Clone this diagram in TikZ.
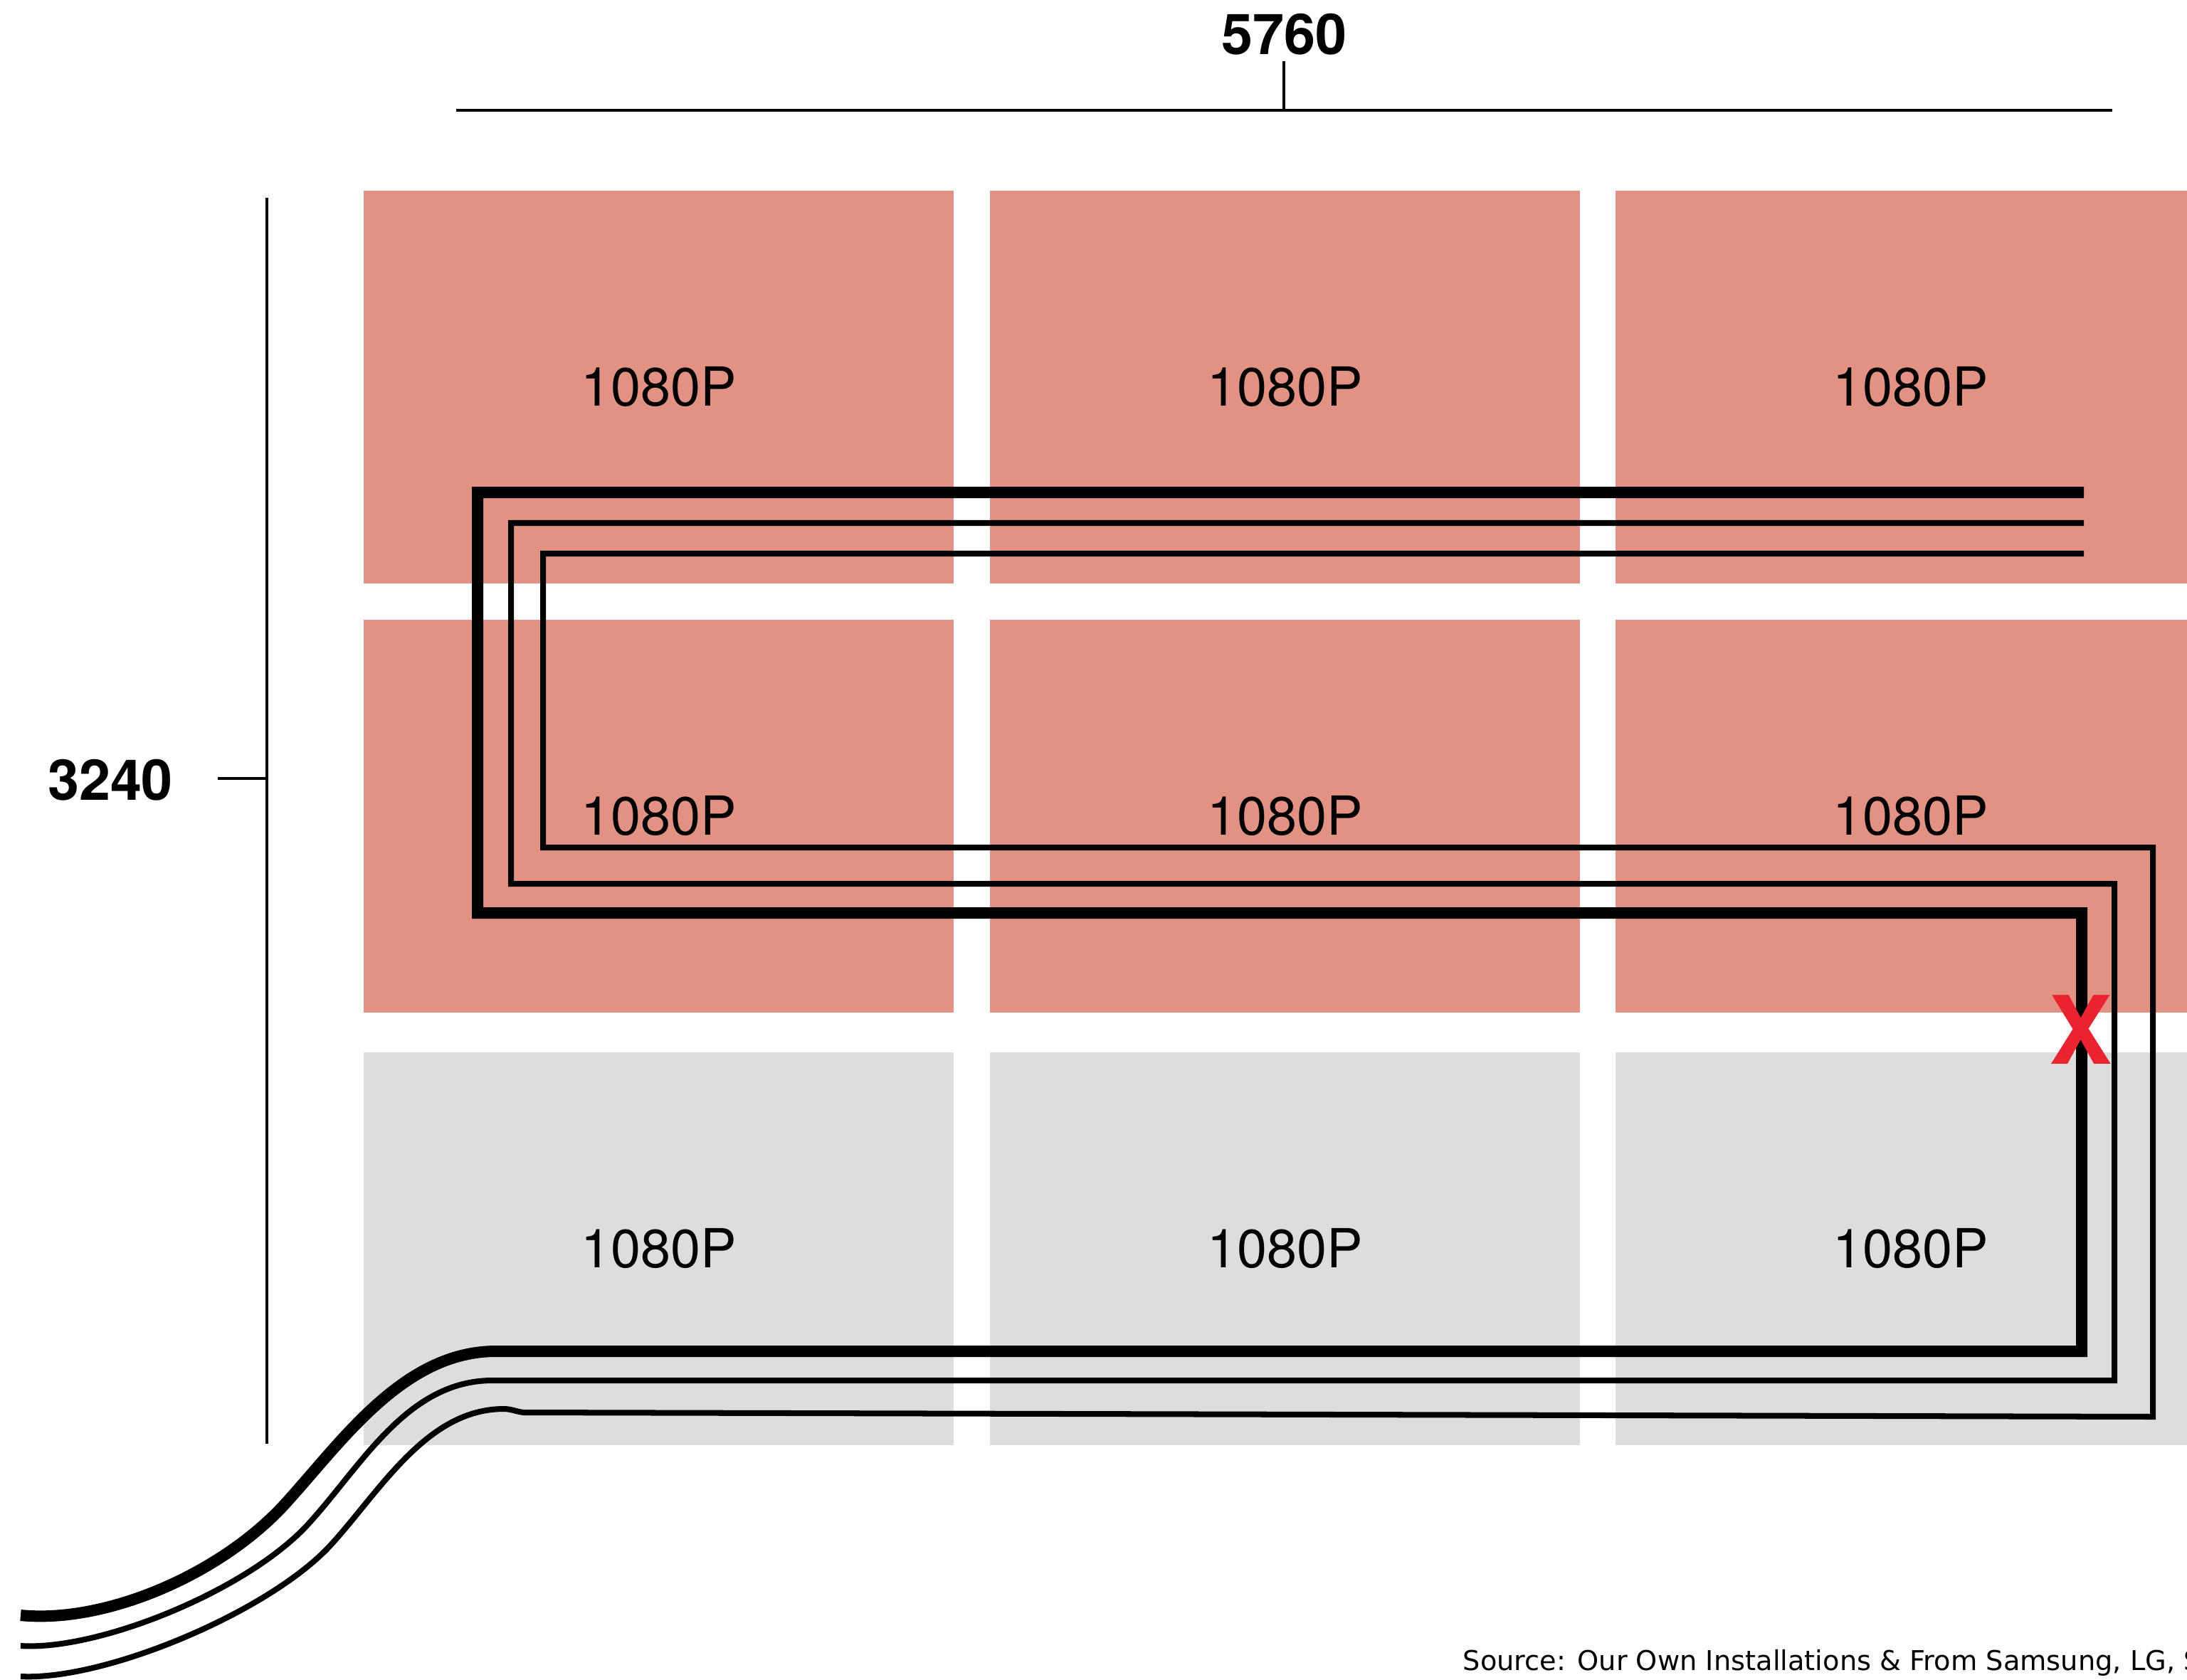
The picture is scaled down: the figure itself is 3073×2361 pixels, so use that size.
\documentclass[tikz,border=0pt]{standalone}
\usepackage{fontspec}
\setmainfont{TeX Gyre Heros}
\newfontfamily\srcfont{DejaVu Sans}
\usepackage{xcolor}
\definecolor{panelred}{RGB}{226,146,131}
\definecolor{panelgray}{RGB}{220,221,223}
\definecolor{faultred}{RGB}{233,36,48}

\begin{document}
\begin{tikzpicture}[x=0.01cm, y=-0.01cm,
  panel/.style={rectangle, inner sep=0pt, anchor=north west, minimum width=8.29cm, minimum height=5.52cm, font=\fontsize{21.5}{24}\selectfont},
  hot/.style={panel, fill=panelred}, cold/.style={panel, fill=panelgray},
  dim/.style={line width=1.4pt, black},
  dimlabel/.style={inner sep=0pt, font=\bfseries\fontsize{22.5}{26}\selectfont},
  heavy/.style={line width=4.55pt, line join=miter}, light/.style={line width=2.28pt, line join=miter}]
\useasboundingbox (0,0) rectangle (3073,2361);

\foreach \c/\x in {1/510,2/1390,3/2269} {
  \node[hot] (p1\c) at (\x,267) {1080P};
  \node[hot] (p2\c) at (\x,870) {1080P};
  \node[cold] (p3\c) at (\x,1478) {1080P};
}

\node[dimlabel] (wlabel) at (1804,48) {5760};
\coordinate (wleft) at (641,155); \coordinate (wright) at (2968,155); \coordinate (wmid) at (1804,155);
\draw[dim] (wleft) -- (wright);
\draw[dim] (wmid) -- ++(0,-69);
\node[dimlabel] (hlabel) at (155,1096) {3240};
\coordinate (htop) at (375,278); \coordinate (hbot) at (375,2029); \coordinate (hmid) at (375,1094);
\draw[dim] (htop) -- (hbot);
\draw[dim] (hmid) -- ++(-69,0);

\draw[heavy] (2928,692) -- (671,692) -- (671,1283) -- (2925,1283) -- (2925,1899) -- (697,1899)
  .. controls (567,1899) and (481,2025) .. (401,2113) .. controls (311,2212) and (149,2282) .. (29,2270);
\draw[light] (2928,735) -- (718,735) -- (718,1242) -- (2971,1242) -- (2971,1940) -- (692,1940)
  .. controls (572,1940) and (508,2060) .. (433,2142) .. controls (348,2235) and (139,2320) .. (29,2313);
\draw[light] (2928,778) -- (763,778) -- (763,1191) -- (3025,1191) -- (3025,1991) -- (736,1985)
  .. controls (726,1984) and (718,1980) .. (708,1980)
  .. controls (600,1980) and (535,2094) .. (465,2171) .. controls (380,2264) and (149,2362) .. (29,2356);

\node[inner sep=0pt, text=faultred, font=\bfseries\fontsize{37.8}{40}\selectfont] (fault) at (2924,1447) {X};

\node[inner sep=0pt, anchor=base west, font=\srcfont\fontsize{10.9}{12}\selectfont] (source) at (2055,2347) {Source: Our Own Installations \& From Samsung, LG, S};
\end{tikzpicture}
\end{document}
